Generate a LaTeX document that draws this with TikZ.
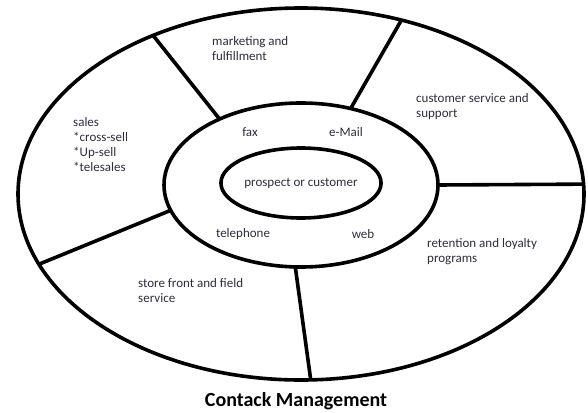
\documentclass[tikz,border=0pt]{standalone}
\usepackage{fontspec}
\setmainfont{Carlito}
\usetikzlibrary{shapes.geometric}
\definecolor{labelgray}{RGB}{45,45,60}

\begin{document}
\begin{tikzpicture}[x=1pt, y=-1pt,
        ring/.style={ellipse, draw, line width=3.6pt, inner sep=0pt, outer sep=0pt},
        lbl/.style={font=\fontsize{13}{15}\selectfont, text=labelgray, align=left, inner sep=0pt},
        divider/.style={line width=3.6pt},
    ]
        \useasboundingbox (0,0) rectangle (588,412);

        % Rings
        \node[ring, minimum width=566pt, minimum height=372pt] (outer)  at (301,194) {};
        \node[ring, minimum width=274pt, minimum height=164pt] (middle) at (301,185) {};
        \node[ring, lbl, minimum width=148pt, minimum height=70pt] (inner) at (301,183) {prospect or customer};

        % Sector dividers
        \draw[divider] (outer.133) -- (middle.141);
        \draw[divider] (outer.60)  -- (middle.57);
        \draw[divider] (middle.0)  -- (outer.2);
        \draw[divider] (middle.266) -- (outer.273);
        \draw[divider] (middle.191) -- (outer.195);

        % Contact channels
        \node[lbl] (fax)   at (250,132) {fax};
        \node[lbl] (email) at (346,132) {e-Mail};
        \node[lbl] (tel)   at (243,234) {telephone};
        \node[lbl] (web)   at (363,234) {web};

        % Functions
        \node[lbl, anchor=west] (mkt)    at (212,48.5)  {marketing and\\fulfillment};
        \node[lbl, anchor=west] (cs)     at (416,106.5) {customer service and\\support};
        \node[lbl, anchor=west] (sales)  at (73,144.5)  {sales\\{}*cross-sell\\{}*Up-sell\\{}*telesales};
        \node[lbl, anchor=west] (ret)    at (427,251.5) {retention and loyalty\\programs};
        \node[lbl, anchor=west] (store)  at (138,290.5) {store front and field\\service};

        \node[font=\bfseries\fontsize{20}{24}\selectfont, anchor=base] (title) at (296,406.5) {Contack Management};
    \end{tikzpicture}
\end{document}
